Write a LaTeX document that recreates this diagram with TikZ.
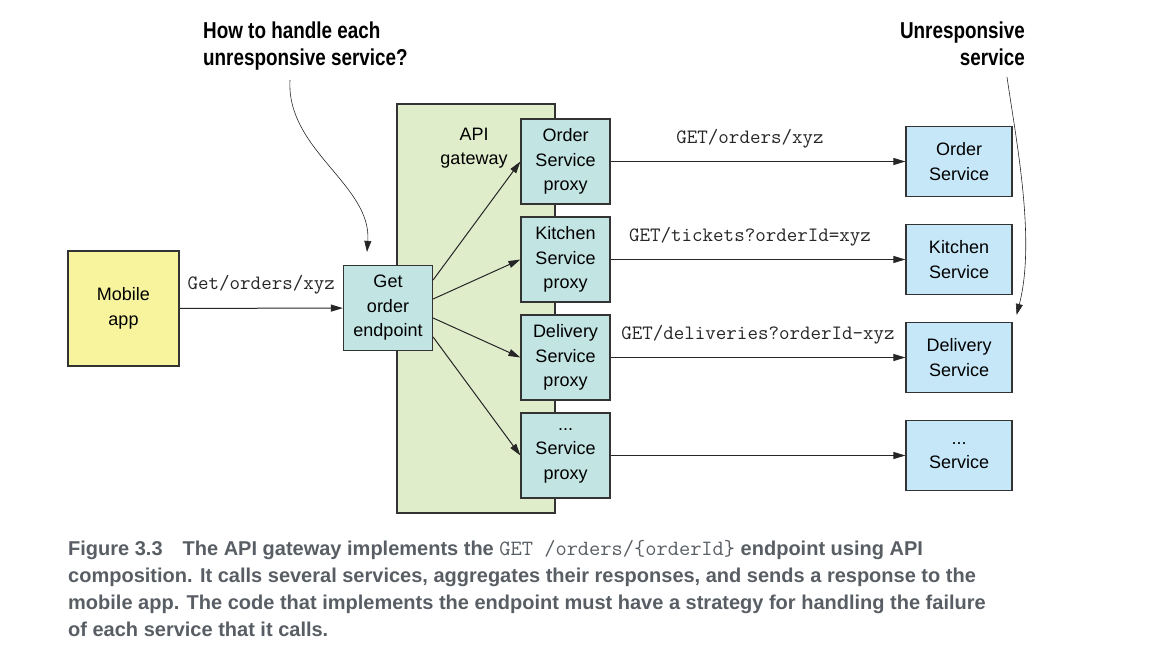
\documentclass[tikz,border=0pt]{standalone}
\usepackage{fontspec}
\setmainfont{Liberation Sans}
\newfontfamily\notefont[FakeStretch=0.82]{Liberation Sans}
\usetikzlibrary{arrows.meta,positioning}
\definecolor{appyellow}{HTML}{F8F49E}
\definecolor{gwgreen}{HTML}{E0EDCB}
\definecolor{proxyteal}{HTML}{C2E4E3}
\definecolor{svcblue}{HTML}{C6E7F8}
\definecolor{capgray}{HTML}{585E64}
\definecolor{edge}{HTML}{333333}
\newcommand\moredots{...}
\tikzset{
  box/.style={draw=edge, line width=1.2pt, align=center, inner sep=0pt,
    font=\fontsize{18}{24.5}\selectfont},
  proxy/.style={box, fill=proxyteal, minimum width=89pt, minimum height=85pt},
  svc/.style={box, fill=svcblue, minimum width=106pt, minimum height=70pt},
  call/.style={-{Triangle[length=12pt,width=7pt]}, line width=1pt, draw=black!85},
  url/.style={font=\fontsize{20.4}{24}\ttfamily, text=black!85},
  note/.style={font=\fontsize{23}{27}\notefont\bfseries, inner sep=0pt},
  noteline/.style={-{Triangle[length=11pt,width=7pt]}, line width=0.6pt, draw=black!85},
}
\begin{document}
\begin{tikzpicture}[x=1pt,y=-1pt]
	\useasboundingbox (0,0) rectangle (1153,666);
	% gateway and its label
	\node[draw=edge, line width=1.2pt, fill=gwgreen, minimum width=158pt, minimum height=409pt] (gw) at (476,308.5) {};
	\node[font=\fontsize{18}{24.5}\selectfont, align=center] (gwlabel) at (474,148) {API\\gateway};
	\node[box, fill=appyellow, minimum width=111pt, minimum height=115pt] (app) at (123.5,308.5) {Mobile\\app};
	\node[box, fill=proxyteal, minimum width=89pt, minimum height=85pt] (ep) at (388,308) {Get\\order\\endpoint};
	\foreach \n/\t/\y in {order/Order/161.5, kitchen/Kitchen/259.5, delivery/Delivery/357.5, other/\moredots/455.5} {
		\node[proxy] (\n px) at (565.5,\y) {\t\\Service\\proxy};
		\node[svc] (\n sv) at (959,\y) {\t\\Service};
	}
	\draw[call] (app) -- node[url, yshift=23pt] {Get/orders/xyz} (ep);
	\foreach \n/\s in {order/28, kitchen/9, delivery/-10, other/-29}
		\draw[call] ([yshift=\s pt]ep.east) -- (\n px.west);
	\draw[call] (orderpx) -- node[url, xshift=-8pt, yshift=23pt] {GET/orders/xyz} (ordersv);
	\draw[call] (kitchenpx) -- node[url, xshift=-8pt, yshift=23pt] {GET/tickets?orderId=xyz} (kitchensv);
	\draw[call] (deliverypx) -- node[url, yshift=23pt] {GET/deliveries?orderId-xyz} (deliverysv);
	\draw[call] (otherpx) -- (othersv);
	% annotations
	\node[note, align=left, anchor=north west] (howto) at (203,22) {How to handle each\\unresponsive service?};
	\node[note, align=right, anchor=north east] (unresp) at (1025,22) {Unresponsive\\service};
	\coordinate (howtail) at (290,80);
	\coordinate (untail) at (1007,77);
	\draw[noteline] (howtail) .. controls (286,150) and (372,185) .. ([xshift=-21pt,yshift=13pt]ep.north);
	\draw[noteline] (untail) .. controls (1016,140) and (1036,240) .. ([xshift=4pt,yshift=7pt]deliverysv.north east);
	% caption
	\node[anchor=north west, align=left, inner sep=0pt, text=capgray, font=\fontsize{20}{27}\selectfont\bfseries] (caption) at (68,540)
		{Figure 3.3\quad The API gateway implements the {\mdseries\fontsize{21.8}{27}\ttfamily GET /orders/\{orderId\}} endpoint using API\\
		composition. It calls several services, aggregates their responses, and sends a response to the\\
		mobile app. The code that implements the endpoint must have a strategy for handling the failure\\
		of each service that it calls.};
\end{tikzpicture}
\end{document}
